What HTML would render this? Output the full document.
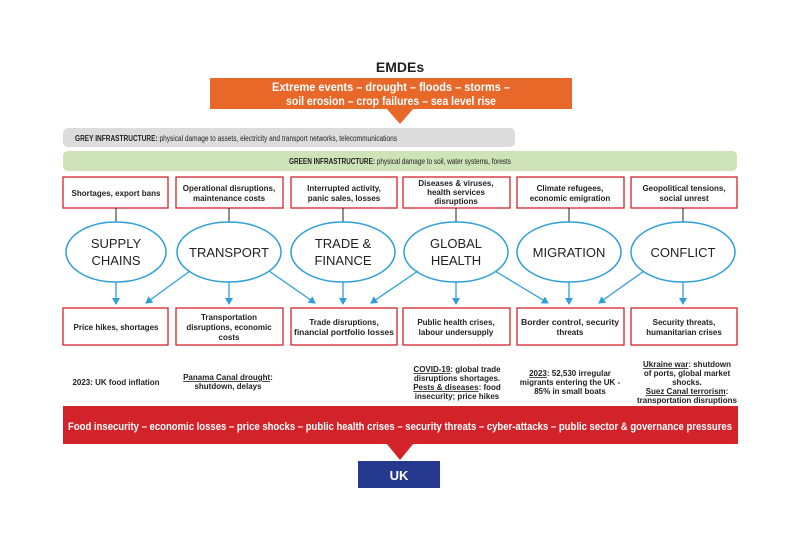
<!DOCTYPE html>
<html><head><meta charset="utf-8"><style>
body{margin:0;background:#fff}
svg text{font-family:"Liberation Sans",sans-serif}
</style></head><body>
<svg width="810" height="540" viewBox="0 0 810 540" xmlns="http://www.w3.org/2000/svg">
<defs><marker id="a" markerWidth="8" markerHeight="8" refX="6" refY="4" orient="auto" markerUnits="userSpaceOnUse"><path d="M0,0 L7,4 L0,8 z" fill="#2e9fd8"/></marker></defs>
<rect width="810" height="540" fill="#fff"/>
<text x="400" y="72" text-anchor="middle" font-size="14" font-weight="bold" fill="#222">EMDEs</text>
<rect x="210" y="78" width="362" height="31" fill="#e8682a"/>
<polygon points="386,108 414,108 400,124" fill="#e8682a"/>
<text x="391" y="91" text-anchor="middle" font-size="12" font-weight="bold" fill="#fff" textLength="238" lengthAdjust="spacingAndGlyphs">Extreme events – drought – floods – storms –</text>
<text x="391" y="105" text-anchor="middle" font-size="12" font-weight="bold" fill="#fff" textLength="210" lengthAdjust="spacingAndGlyphs">soil erosion – crop failures – sea level rise</text>
<rect x="63" y="128" width="452" height="19" rx="5" fill="#dcdcdc"/>
<text x="75" y="141" font-size="8" fill="#222" textLength="322" lengthAdjust="spacingAndGlyphs"><tspan font-weight="bold">GREY INFRASTRUCTURE:</tspan> physical damage to assets, electricity and transport networks, telecommunications</text>
<rect x="63" y="151" width="674" height="20" rx="5" fill="#cfe3b8"/>
<text x="400" y="164" text-anchor="middle" font-size="8" fill="#222" textLength="222" lengthAdjust="spacingAndGlyphs"><tspan font-weight="bold">GREEN INFRASTRUCTURE:</tspan> physical damage to soil, water systems, forests</text>
<g fill="#fff" stroke="#d2232a" stroke-width="1.3">
<rect x="63" y="177" width="105" height="31"/><rect x="176" y="177" width="107" height="31"/><rect x="291" y="177" width="106" height="31"/><rect x="403" y="177" width="107" height="31"/><rect x="517" y="177" width="107" height="31"/><rect x="631" y="177" width="106" height="31"/>
<rect x="63" y="308" width="105" height="37"/><rect x="176" y="308" width="107" height="37"/><rect x="291" y="308" width="106" height="37"/><rect x="403" y="308" width="107" height="37"/><rect x="517" y="308" width="107" height="37"/><rect x="631" y="308" width="106" height="37"/>
</g>
<g font-size="8" font-weight="bold" fill="#222" text-anchor="middle">
<text x="116" y="196">Shortages, export bans</text>
<text x="229" y="191">Operational disruptions,</text><text x="229" y="201">maintenance costs</text>
<text x="344" y="191">Interrupted activity,</text><text x="344" y="201">panic sales, losses</text>
<text x="456" y="186">Diseases &amp; viruses,</text><text x="456" y="195">health services</text><text x="456" y="204">disruptions</text>
<text x="570" y="191">Climate refugees,</text><text x="570" y="201">economic emigration</text>
<text x="684" y="191">Geopolitical tensions,</text><text x="684" y="201">social unrest</text>
<text x="116" y="330">Price hikes, shortages</text>
<text x="229" y="320">Transportation</text><text x="229" y="330">disruptions, economic</text><text x="229" y="340">costs</text>
<text x="344" y="325">Trade disruptions,</text><text x="344" y="335" textLength="100" lengthAdjust="spacingAndGlyphs">financial portfolio losses</text>
<text x="456" y="325">Public health crises,</text><text x="456" y="335">labour undersupply</text>
<text x="570" y="325" textLength="98" lengthAdjust="spacingAndGlyphs">Border control, security</text><text x="570" y="335">threats</text>
<text x="684" y="325">Security threats,</text><text x="684" y="335">humanitarian crises</text>
</g>
<g stroke="#222" stroke-width="1">
<line x1="116" y1="208" x2="116" y2="222"/><line x1="229" y1="208" x2="229" y2="222"/><line x1="343" y1="208" x2="343" y2="222"/><line x1="456" y1="208" x2="456" y2="222"/><line x1="569" y1="208" x2="569" y2="222"/><line x1="683" y1="208" x2="683" y2="222"/>
</g>
<g fill="#fff" stroke="#2e9fd8" stroke-width="1.5">
<ellipse cx="116" cy="252" rx="50" ry="30"/><ellipse cx="229" cy="252" rx="52" ry="30"/><ellipse cx="343" cy="252" rx="52" ry="30"/><ellipse cx="456" cy="252" rx="52" ry="30"/><ellipse cx="569" cy="252" rx="52" ry="30"/><ellipse cx="683" cy="252" rx="52" ry="30"/>
</g>
<g font-size="13" fill="#222" text-anchor="middle">
<text x="116" y="248">SUPPLY</text><text x="116" y="265">CHAINS</text>
<text x="229" y="257">TRANSPORT</text>
<text x="343" y="248">TRADE &amp;</text><text x="343" y="265">FINANCE</text>
<text x="456" y="248">GLOBAL</text><text x="456" y="265">HEALTH</text>
<text x="569" y="257">MIGRATION</text>
<text x="683" y="257">CONFLICT</text>
</g>
<g stroke="#2e9fd8" stroke-width="1.3" marker-end="url(#a)">
<line x1="116" y1="282" x2="116" y2="304"/><line x1="229" y1="282" x2="229" y2="304"/><line x1="343" y1="282" x2="343" y2="304"/><line x1="456" y1="282" x2="456" y2="304"/><line x1="569" y1="282" x2="569" y2="304"/><line x1="683" y1="282" x2="683" y2="304"/>
<line x1="190" y1="271" x2="146" y2="303"/><line x1="269" y1="271" x2="315" y2="303"/>
<line x1="418" y1="271" x2="371" y2="303"/><line x1="495" y1="271" x2="548" y2="303"/>
<line x1="644" y1="271" x2="599" y2="303"/>
</g>
<g font-size="8" font-weight="bold" fill="#222" text-anchor="middle">
<text x="116" y="385">2023: UK food inflation</text>
<text x="228" y="380"><tspan text-decoration="underline">Panama Canal drought</tspan>:</text><text x="228" y="389">shutdown, delays</text>
<text x="457" y="372"><tspan text-decoration="underline">COVID-19</tspan>: global trade</text><text x="457" y="381">disruptions shortages.</text><text x="457" y="390"><tspan text-decoration="underline">Pests &amp; diseases</tspan>: food</text><text x="457" y="399">insecurity; price hikes</text>
<text x="570" y="376"><tspan text-decoration="underline">2023</tspan>: 52,530 irregular</text><text x="570" y="385">migrants entering the UK -</text><text x="570" y="394">85% in small boats</text>
<text x="687" y="367"><tspan text-decoration="underline">Ukraine war</tspan>: shutdown</text><text x="687" y="376">of ports, global market</text><text x="687" y="385">shocks.</text><text x="687" y="394"><tspan text-decoration="underline">Suez Canal terrorism</tspan>:</text><text x="687" y="403" textLength="100" lengthAdjust="spacingAndGlyphs">transportation disruptions</text>
</g>
<rect x="63" y="406" width="675" height="38" fill="#d2232a"/>
<text x="400" y="430" text-anchor="middle" font-size="11" font-weight="bold" fill="#fff" textLength="664" lengthAdjust="spacingAndGlyphs">Food insecurity – economic losses – price shocks – public health crises – security threats – cyber-attacks – public sector &amp; governance pressures</text>
<polygon points="386,443 414,443 400,460" fill="#d2232a"/>
<rect x="358" y="461" width="82" height="27" fill="#253a8e"/>
<text x="399" y="480" text-anchor="middle" font-size="13" font-weight="bold" fill="#fff">UK</text>
</svg>
</body></html>
